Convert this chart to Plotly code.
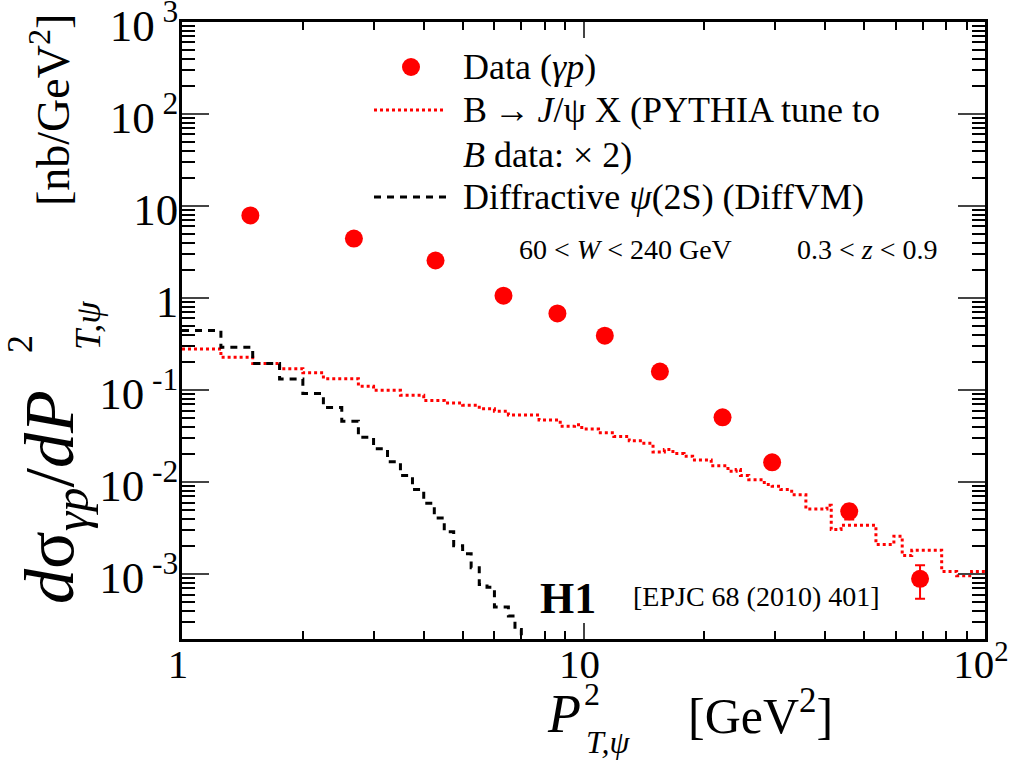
import plotly.graph_objects as go

# ---------------- data ----------------
data_x = [1.48, 2.68, 4.28, 6.32, 8.61, 11.3, 15.5, 22.2, 29.5, 45.9, 68.9]
data_y = [7.9, 4.43, 2.56, 1.06, 0.68, 0.39, 0.159, 0.0506, 0.0164, 0.00482, 0.00089]
data_err_up = [0.4, 0.2, 0.12, 0.05, 0.03, 0.02, 0.008, 0.003, 0.0011, 0.0009, 0.00036]
data_err_dn = [0.4, 0.2, 0.12, 0.05, 0.03, 0.02, 0.008, 0.003, 0.0011, 0.0009, 0.00035]

pythia_edges = [1.0, 1.25, 1.5, 1.75, 2.0, 2.25, 2.5, 2.75, 3.0, 3.5, 4.0, 4.5, 5.0, 5.5, 6.0,
                6.5, 7.75, 8.75, 9.5, 9.9, 10.9, 11.9, 13.0, 14.0, 14.9, 15.9, 16.7, 17.8, 18.7,
                20.8, 22.9, 24.0, 24.6, 25.8, 28.2, 29.5, 31.0, 33.0, 35.8, 40.4, 41.4, 43.8,
                53.5, 59.3, 62.2, 65.7, 78.0, 85.0, 92.6, 100.0]
pythia_vals = [0.280, 0.227, 0.195, 0.171, 0.154, 0.133, 0.133, 0.110, 0.0995, 0.0877,
               0.0769, 0.0726, 0.0685, 0.0625, 0.059, 0.0537, 0.0474, 0.0404, 0.0421, 0.0378,
               0.0343, 0.0313, 0.0281, 0.0264, 0.0213, 0.0226, 0.0204, 0.0191, 0.0174, 0.0151,
               0.0131, 0.0137, 0.0118, 0.0106, 0.0094, 0.0090, 0.0083, 0.0073, 0.0051, 0.0056,
               0.00305, 0.0034, 0.0021, 0.00258, 0.00159, 0.00182, 0.00107, 0.00096, 0.00107]

diffvm_edges = [1.0, 1.25, 1.5, 1.75, 2.0, 2.25, 2.5, 2.75, 3.0, 3.25, 3.5, 3.75, 4.0, 4.25,
                4.5, 4.75, 5.0, 5.25, 5.5, 5.75, 6.0, 6.25, 6.5, 6.75, 7.0, 7.25]
diffvm_vals = [0.443, 0.292, 0.195, 0.132, 0.0916, 0.0646, 0.0459, 0.0307, 0.0230, 0.0166,
               0.0118, 0.0083, 0.00588, 0.00408, 0.00288, 0.00204, 0.00167, 0.00117, 0.00077,
               0.00072, 0.00044, 0.00044, 0.00035, 0.00025, 0.00015]

x_tickvals = [1, 10, 100]
x_ticktext = ["1", "10", "10<sup>2</sup>"]
y_tickvals = [1e-3, 1e-2, 1e-1, 1, 10, 100, 1000]
y_ticktext = ["10<sup> -3</sup>", "10<sup> -2</sup>", "10<sup> -1</sup>", "1", "10",
              "10<sup> 2</sup>", "10<sup> 3</sup>"]

FONT = "Liberation Serif"

fig = go.Figure()

fig.add_trace(go.Scatter(
    x=pythia_edges, y=pythia_vals + [pythia_vals[-1]], mode="lines",
    line=dict(shape="hv", color="#ff0000", width=3, dash="dot"), showlegend=False))

fig.add_trace(go.Scatter(
    x=diffvm_edges, y=diffvm_vals + [diffvm_vals[-1]], mode="lines",
    line=dict(shape="hv", color="black", width=3, dash="7px,6px"), showlegend=False))

fig.add_trace(go.Scatter(
    x=data_x, y=data_y, mode="markers",
    marker=dict(symbol="circle", size=18, color="#ff0000"),
    error_y=dict(type="data", array=data_err_up, arrayminus=data_err_dn, symmetric=False,
                 color="#ff0000", thickness=2, width=5),
    showlegend=False))

# plot area in pixels: x 182..985, y 22..639
L, R, T, B = 182, 985, 22, 639
def px(x):
    return (x - L) / (R - L)
def py(y):
    return (B - y) / (B - T)

axis_common = dict(showline=True, linecolor="black", linewidth=2.5, mirror="allticks",
                   ticks="inside", showgrid=False, zeroline=False,
                   ticklabeloverflow="allow", automargin=False)

fig.update_layout(
    width=1011, height=773,
    margin=dict(l=L, r=1011 - R, t=T, b=773 - B, autoexpand=False),
    paper_bgcolor="white", plot_bgcolor="white",
    font=dict(family=FONT, color="black"),
    xaxis=dict(type="log", range=[0, 2], tickmode="array", tickvals=x_tickvals,
               ticktext=x_ticktext, ticklen=16, tickwidth=2, ticklabelstandoff=-13,
               ticklabelshift=-4,
               tickfont=dict(family=FONT, size=41, color="black"),
               minor=dict(ticks="inside", ticklen=8, tickwidth=2, dtick="D1",
                          tickcolor="black", showgrid=False),
               **axis_common),
    yaxis=dict(type="log", range=[-3.705, 3], tickmode="array", tickvals=y_tickvals,
               ticktext=y_ticktext, ticklen=27, tickwidth=2, ticklabelstandoff=-8,
               ticklabelshift=3,
               tickfont=dict(family=FONT, size=45, color="black"),
               minor=dict(ticks="inside", ticklen=13, tickwidth=2, dtick="D1",
                          tickcolor="black", showgrid=False),
               **axis_common),
)

ann = []
def add_text(text, x, y, size, xanchor="left", yanchor="middle", angle=0):
    ann.append(dict(text=text, x=x, y=y, xref="paper", yref="paper", showarrow=False,
                    xanchor=xanchor, yanchor=yanchor, textangle=angle,
                    font=dict(family=FONT, size=size, color="black")))

LEG = 36
add_text("Data (<i>γp</i>)", px(461), py(67), LEG)
add_text("B\u2009→\u2009<i>J</i>/ψ X (PYTHIA tune to", px(461), py(110), LEG)
add_text("<i>B</i> data: × 2)", px(461), py(155), LEG)
add_text("Diffractive <i>ψ</i>(2S) (DiffVM)", px(461), py(197), LEG)
add_text("60 < <i>W</i> < 240 GeV", px(517), py(250), 28)
add_text("0.3 < <i>z</i> < 0.9", px(795), py(250), 28)
add_text("<b>H1</b>", px(538), py(598), 44)
add_text("[EPJC 68 (2010) 401]", px(631), py(596), 28)

# x-axis title (P with stacked super/subscript)
add_text("<i>P</i>", px(564), py(714), 54, xanchor="center")
add_text("2", px(582), py(694), 32, xanchor="left")
add_text("<i>T,ψ</i>", px(584), py(742), 32, xanchor="left")
add_text("[GeV<sup>2</sup>]", px(760), py(712), 50, xanchor="center")

# y-axis title (rotated)
add_text("[nb/GeV<sup>2</sup>]", px(50), py(110), 46, xanchor="center", angle=-90)
add_text("<i>d</i>σ<sub><i>γp</i></sub>/<i>dP</i>", px(55), py(497), 70,
         xanchor="center", angle=-90)
add_text("2", px(20), py(344), 36, xanchor="center", angle=-90)
add_text("<i>T,ψ</i>", px(88), py(326), 36, xanchor="center", angle=-90)

fig.update_layout(annotations=ann)

# legend samples
shapes = [
    dict(type="circle", xref="paper", yref="paper", xsizemode="pixel", ysizemode="pixel",
         xanchor=px(411), yanchor=py(67), x0=-9, x1=9, y0=-9, y1=9,
         fillcolor="#ff0000", line=dict(color="#ff0000", width=0)),
    dict(type="line", xref="paper", yref="paper", x0=px(374), x1=px(446), y0=py(110), y1=py(110),
         line=dict(color="#ff0000", width=3, dash="dot")),
    dict(type="line", xref="paper", yref="paper", x0=px(374), x1=px(446), y0=py(197), y1=py(197),
         line=dict(color="black", width=3, dash="7px,6px")),
]
fig.update_layout(shapes=shapes)

fig.write_html("out.html")
